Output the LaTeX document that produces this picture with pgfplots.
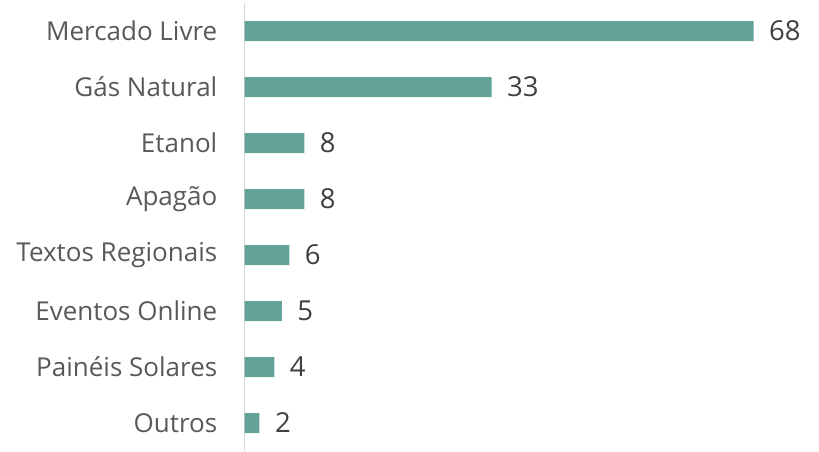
\documentclass[border=0pt]{standalone}
\usepackage{pgfplots}
\pgfplotsset{compat=1.18}
\usepackage{fontspec}
\setmainfont{Open Sans}
\definecolor{barc}{HTML}{62A298}
\definecolor{axc}{HTML}{D9D9D9}
\definecolor{txt}{HTML}{595959}
\definecolor{num}{HTML}{404040}
\begin{document}
\begin{tikzpicture}[x=1pt,y=1pt]
\useasboundingbox (0,0) rectangle (819,451);
\begin{axis}[
  at={(244.5pt,0pt)}, anchor=south west,
  scale only axis, width=555.5pt, height=448pt,
  xbar, bar width=20pt,
  xmin=0, xmax=74.2,
  ymin=-0.5, ymax=7.5,
  y dir=reverse,
  ytick={0,...,7},
  yticklabels={Mercado Livre,Gás Natural,Etanol,Apagão,Textos Regionais,Eventos Online,Painéis Solares,Outros},
  yticklabel style={font=\fontsize{26}{29}\selectfont, text=txt, inner xsep=0pt, xshift=-27pt},
  major tick length=0pt,
  axis x line=none,
  axis y line*=left,
  y axis line style={axc, line width=1.5pt, -},
  /pgf/number format/assume math mode=true,
  nodes near coords,
  nodes near coords style={font=\fontsize{27.5}{30}\selectfont, text=num, anchor=west, xshift=12pt},
  point meta=x,
  clip=false,
]
\addplot[fill=barc, draw=none] coordinates {(68,0) (33,1) (8,2) (8,3) (6,4) (5,5) (4,6) (2,7)};
\end{axis}
\end{tikzpicture}
\end{document}
